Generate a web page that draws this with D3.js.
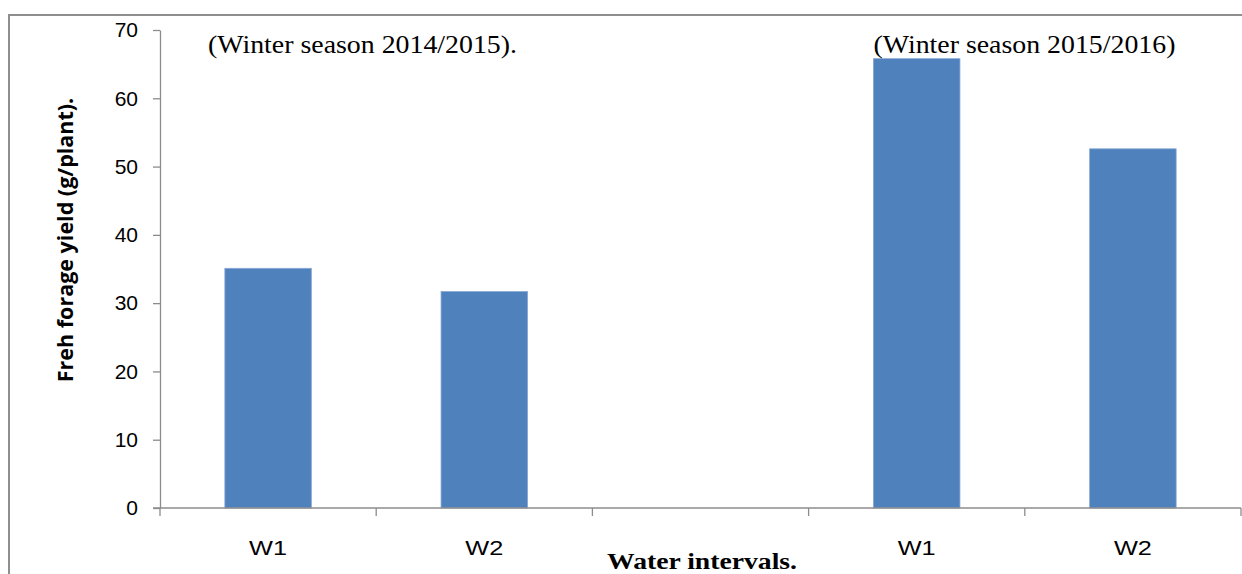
<!DOCTYPE html>
<html>
<head>
<meta charset="utf-8">
<script src="https://cdn.jsdelivr.net/npm/d3@7"></script>
<style>
  html, body { margin: 0; padding: 0; background: #fff; }
  svg { display: block; }
</style>
</head>
<body>
<svg id="chart" width="1242" height="574"></svg>
<script>
// Category slots along the x axis (one empty slot separates the two seasons)
const slots = ["2014-W1", "2014-W2", "gap", "2016-W1", "2016-W2"];
const slotLabels = ["W1", "W2", "", "W1", "W2"];
// Fresh forage yield, g/plant
const yieldValues = [35.1, 31.7, null, 65.8, 52.6];
const yTicks = [0, 10, 20, 30, 40, 50, 60, 70];
const seasonNotes = ["(Winter season 2014/2015).", "(Winter season 2015/2016)"];
const seasonNoteSlots = ["2014-W1", "2016-W1"];

const svg = d3.select("#chart");
const axisColor = "#8c8c8c";

// frame
svg.append("path")
  .attr("d", "M9,574 V15 H1242")
  .attr("fill", "none")
  .attr("stroke", "#8f8f8f")
  .attr("stroke-width", 2);

const plot = { left: 160, right: 1241, top: 30, bottom: 508 };

const x = d3.scaleBand().domain(slots).range([plot.left, plot.right]).padding(0);
const y = d3.scaleLinear().domain([0, 70]).range([plot.bottom, plot.top]);

// y axis
const yAxis = svg.append("g")
  .attr("transform", `translate(${plot.left},0)`)
  .call(d3.axisLeft(y).tickValues(yTicks).tickSize(7).tickPadding(15).tickSizeOuter(0));
yAxis.select(".domain").attr("stroke", axisColor).attr("stroke-width", 1.3);
yAxis.selectAll(".tick line").attr("stroke", axisColor).attr("stroke-width", 1.3);
yAxis.selectAll(".tick text")
  .attr("font-family", "'Liberation Sans', Arial, sans-serif")
  .attr("font-size", 21)
  .attr("fill", "#000");

// bars
svg.append("g").selectAll("rect")
  .data(slots.map((s, i) => ({ slot: s, value: yieldValues[i] })).filter(d => d.value != null))
  .join("rect")
  .attr("x", d => x(d.slot) + x.bandwidth() * 0.3)
  .attr("width", x.bandwidth() * 0.4)
  .attr("y", d => y(d.value))
  .attr("height", d => y(0) - y(d.value))
  .attr("fill", "#4f81bd")
  .attr("stroke", "#86a6d4")
  .attr("stroke-width", 0.8);

// x axis line and boundary ticks between slots
const xAxis = svg.append("g").attr("transform", `translate(0,${plot.bottom})`);
xAxis.append("line")
  .attr("x1", plot.left - 7).attr("x2", plot.right)
  .attr("y1", 0).attr("y2", 0)
  .attr("stroke", axisColor).attr("stroke-width", 1.3);
const bounds = slots.map(s => x(s)).concat([x(slots[slots.length - 1]) + x.bandwidth()]);
xAxis.selectAll("line.b")
  .data(bounds)
  .join("line")
  .attr("class", "b")
  .attr("x1", d => d).attr("x2", d => d)
  .attr("y1", 0).attr("y2", 8)
  .attr("stroke", axisColor).attr("stroke-width", 1.3);
xAxis.selectAll("text")
  .data(slots.map((s, i) => ({ slot: s, label: slotLabels[i] })).filter(d => d.label))
  .join("text")
  .attr("x", d => x(d.slot) + x.bandwidth() / 2 - 19)
  .attr("y", 47)
  .attr("font-family", "'Liberation Sans', Arial, sans-serif")
  .attr("font-size", 21)
  .attr("textLength", 38)
  .attr("lengthAdjust", "spacingAndGlyphs")
  .text(d => d.label);

// season notes
svg.append("g").selectAll("text")
  .data(seasonNotes.map((t, i) => ({ text: t, slot: seasonNoteSlots[i] })))
  .join("text")
  .attr("x", (d, i) => i === 0 ? 208 : x(d.slot) + x.bandwidth() * 0.3)
  .attr("y", 53)
  .attr("font-family", "'Liberation Serif', 'Times New Roman', serif")
  .attr("font-size", 25)
  .attr("textLength", (d, i) => i === 0 ? 309 : 302)
  .attr("lengthAdjust", "spacingAndGlyphs")
  .text(d => d.text);

// axis titles
svg.append("text")
  .attr("transform", "translate(73,240) rotate(-90)")
  .attr("text-anchor", "middle")
  .attr("font-family", "'Open Sans', 'Liberation Sans', sans-serif")
  .attr("font-weight", "bold")
  .attr("font-size", 21.5)
  .text("Freh forage yield (g/plant).");

svg.append("text")
  .attr("x", 702)
  .attr("y", 569)
  .attr("text-anchor", "middle")
  .attr("font-family", "'Liberation Serif', 'Times New Roman', serif")
  .attr("font-weight", "bold")
  .attr("font-size", 24)
  .attr("textLength", 190)
  .attr("lengthAdjust", "spacingAndGlyphs")
  .text("Water intervals.");
</script>
</body>
</html>
